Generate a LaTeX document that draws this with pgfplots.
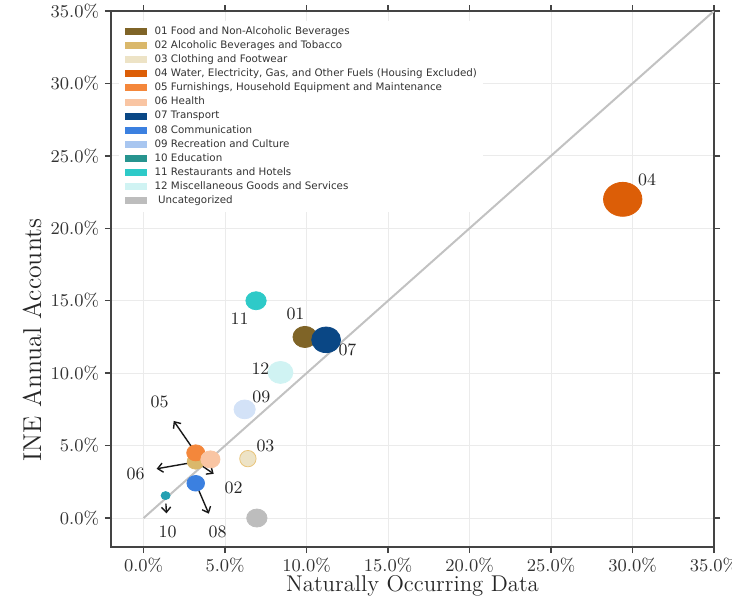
\documentclass[border=0pt]{standalone}
\usepackage{fontspec}
\usepackage{pgfplots}
\pgfplotsset{compat=1.18}
\usetikzlibrary{arrows.meta}
\newfontfamily\legfont{DejaVu Sans}

% category colours
\definecolor{c01}{HTML}{7F6427}
\definecolor{c02}{HTML}{DAB86B}
\definecolor{c03}{HTML}{EDE3C6}
\definecolor{c03e}{HTML}{E9C47A}
\definecolor{c04}{HTML}{DC5E07}
\definecolor{c05}{HTML}{F4873B}
\definecolor{c06}{HTML}{F9C5A3}
\definecolor{c07}{HTML}{0A4785}
\definecolor{c08}{HTML}{3B80E0}
\definecolor{c09}{HTML}{A8C6F0}
\definecolor{c09p}{HTML}{D3E2F7}
\definecolor{c10}{HTML}{27948F}
\definecolor{c10p}{HTML}{25A0B2}
\definecolor{c11}{HTML}{2ECAC8}
\definecolor{c12}{HTML}{D0F3F3}
\definecolor{cun}{HTML}{BDBDBD}
\definecolor{gridc}{HTML}{EBEBEB}
\definecolor{axisc}{HTML}{444444}
\definecolor{diagc}{HTML}{C2C2C2}

\tikzset{
  arr/.style={-{Straight Barb[length=2.6pt,width=4.6pt]}, line width=0.7pt, black!90},
  lab/.style={font=\fontsize{8.7}{10}\selectfont, text=black!85},
}

\begin{document}
\begin{tikzpicture}
\begin{axis}[
  name=ax,
  scale only axis, width=301.5pt, height=268pt,
  xmin=-2, xmax=35, ymin=-2, ymax=35,
  xtick={0,5,...,35}, ytick={0,5,...,35},
  grid=major, major grid style={draw=gridc, line width=0.5pt},
  axis line style={draw=axisc, line width=0.8pt},
  tick align=outside, major tick length=3pt,
  tick style={draw=axisc, line width=0.7pt},
  xticklabel={\pgfmathprintnumber[fixed,fixed zerofill,precision=1]{\tick}\%},
  yticklabel={\pgfmathprintnumber[fixed,fixed zerofill,precision=1]{\tick}\%},
  ticklabel style={font=\fontsize{9}{10}\selectfont, text=black!80},
  xticklabel style={anchor=center, yshift=-6pt},
  yticklabel style={anchor=east, xshift=0.5pt},
  xlabel={Naturally Occurring Data},
  ylabel={INE Annual Accounts},
  xlabel style={font=\fontsize{11.4}{13}\selectfont, at={(axis description cs:0.5,0)}, anchor=center, yshift=-19.5pt, text=black!85},
  ylabel style={font=\fontsize{12.9}{14}\selectfont, at={(axis description cs:-0.131,0.386)}, anchor=center, text=black!85},
  legend image code/.code={\fill[#1,draw=none] (0pt,-1.75pt) rectangle (11pt,1.75pt);},
  legend cell align=left,
  legend style={at={(axis description cs:0.012,0.983)}, anchor=north west,
    draw=none, fill=white, font=\legfont\fontsize{5.15}{6}\selectfont,
    text=black!80, row sep=2.05pt, inner xsep=3pt, inner ysep=3pt,
    nodes={inner sep=0pt, text height=3.9pt, text depth=1.1pt},
    column sep=0pt},
  bub/.style 2 args={only marks, mark=*, mark size=#2, color=#1,
    mark options={xscale=1.13, fill=#1, draw=#1, line width=0.4pt}, forget plot},
]

% legend entries
\addlegendimage{fill=c01}\addlegendentry{\hspace{4pt}01 Food and Non-Alcoholic Beverages}
\addlegendimage{fill=c02}\addlegendentry{\hspace{4pt}02 Alcoholic Beverages and Tobacco}
\addlegendimage{fill=c03}\addlegendentry{\hspace{4pt}03 Clothing and Footwear}
\addlegendimage{fill=c04}\addlegendentry{\hspace{4pt}04 Water, Electricity, Gas, and Other Fuels (Housing Excluded)}
\addlegendimage{fill=c05}\addlegendentry{\hspace{4pt}05 Furnishings, Household Equipment and Maintenance}
\addlegendimage{fill=c06}\addlegendentry{\hspace{4pt}06 Health}
\addlegendimage{fill=c07}\addlegendentry{\hspace{4pt}07 Transport}
\addlegendimage{fill=c08}\addlegendentry{\hspace{4pt}08 Communication}
\addlegendimage{fill=c09}\addlegendentry{\hspace{4pt}09 Recreation and Culture}
\addlegendimage{fill=c10}\addlegendentry{\hspace{4pt}10 Education}
\addlegendimage{fill=c11}\addlegendentry{\hspace{4pt}11 Restaurants and Hotels}
\addlegendimage{fill=c12}\addlegendentry{\hspace{4pt}12 Miscellaneous Goods and Services}
\addlegendimage{fill=cun}\addlegendentry{\hspace{5.7pt}Uncategorized}

% 45-degree reference line
\addplot[draw=diagc, line width=1pt, forget plot] coordinates {(0,0) (35,35)};

% bubbles: (naturally occurring share, INE share)
\addplot[bub={c04}{8.5pt}] coordinates {(29.4,22.0)};
\addplot[bub={c11}{4.5pt}] coordinates {(6.9,15.0)};
\addplot[bub={c01}{5.3pt}] coordinates {(9.9,12.5)};
\addplot[bub={c07}{6.4pt}] coordinates {(11.2,12.3)};
\addplot[bub={c12}{5.5pt}] coordinates {(8.4,10.05)};
\addplot[bub={c09p}{4.7pt}] coordinates {(6.2,7.5)};
\addplot[bub={c03}{4.1pt}, mark options={draw=c03e}] coordinates {(6.4,4.1)};
\addplot[bub={cun}{4.5pt}] coordinates {(6.95,0.0)};
\addplot[bub={c02}{3.8pt}] coordinates {(3.2,3.9)};
\draw[arr] (axis cs:3.2,3.9) -- (axis cs:4.3,3.05);
\draw[arr] (axis cs:3.2,4.5) -- (axis cs:1.85,6.7);
\addplot[bub={c05}{4.0pt}] coordinates {(3.2,4.5)};
\draw[arr] (axis cs:4.1,4.05) -- (axis cs:0.8,3.4);
\addplot[bub={c06}{4.25pt}] coordinates {(4.1,4.05)};
\draw[arr] (axis cs:3.2,2.4) -- (axis cs:4.0,0.3);
\addplot[bub={c08}{3.9pt}] coordinates {(3.2,2.4)};
\draw[arr] (axis cs:1.37,1.0) -- (axis cs:1.4,0.32);
\addplot[bub={c10p}{2.0pt}] coordinates {(1.35,1.55)};

% category labels
\node[lab] at (axis cs:30.9,23.33) {04};
\node[lab] at (axis cs:9.32,14.08) {01};
\node[lab] at (axis cs:12.51,11.59) {07};
\node[lab] at (axis cs:5.89,13.73) {11};
\node[lab] at (axis cs:7.17,10.28) {12};
\node[lab] at (axis cs:7.23,8.35) {09};
\node[lab] at (axis cs:7.48,4.97) {03};
\node[lab] at (axis cs:0.98,8.0) {05};
\node[lab] at (axis cs:-0.49,3.04) {06};
\node[lab] at (axis cs:5.52,2.07) {02};
\node[lab] at (axis cs:4.54,-0.97) {08};
\node[lab] at (axis cs:1.47,-0.97) {10};
\end{axis}
\pgfresetboundingbox
\path[use as bounding box] ([shift={(-55.5pt,-27pt)}]ax.south west) rectangle ([shift={(9pt,5.5pt)}]ax.north east);
\end{tikzpicture}
\end{document}
